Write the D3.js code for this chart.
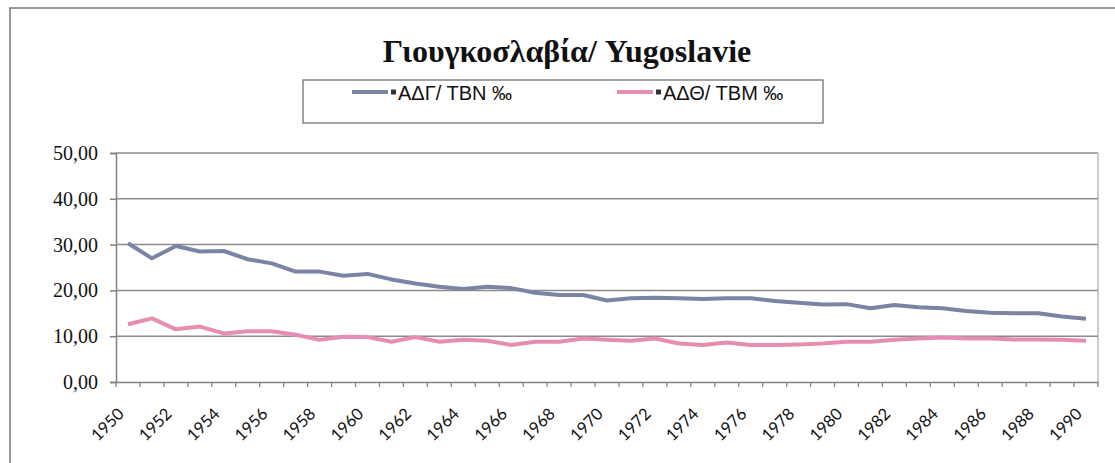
<!DOCTYPE html>
<html>
<head>
<meta charset="utf-8">
<script src="https://cdn.jsdelivr.net/npm/d3@7"></script>
<style>
  body { margin: 0; background: #fff; }
  svg { display: block; }
</style>
</head>
<body>
<svg id="chart" width="1115" height="463"></svg>
<script>
const years = d3.range(1950, 1991);
const birthRate = [30.3, 27.0, 29.7, 28.5, 28.6, 26.8, 25.9, 24.1, 24.1, 23.2,
                   23.6, 22.4, 21.5, 20.8, 20.3, 20.8, 20.5, 19.5, 19.0, 19.0,
                   17.8, 18.3, 18.4, 18.3, 18.1, 18.3, 18.3, 17.7, 17.3, 16.9,
                   17.0, 16.1, 16.8, 16.3, 16.1, 15.5, 15.1, 15.0, 15.0, 14.3, 13.8];
const deathRate = [12.6, 13.9, 11.5, 12.1, 10.6, 11.1, 11.1, 10.3, 9.2, 9.9,
                   9.8, 8.8, 9.8, 8.8, 9.2, 9.0, 8.1, 8.8, 8.8, 9.5,
                   9.2, 9.0, 9.5, 8.4, 8.1, 8.6, 8.1, 8.1, 8.2, 8.4,
                   8.8, 8.8, 9.2, 9.5, 9.7, 9.5, 9.5, 9.3, 9.3, 9.2, 9.0];
const yTicks = [0, 10, 20, 30, 40, 50];
const seriesNames = ["ΑΔΓ/ ΤΒΝ ‰", "ΑΔΘ/ ΤΒΜ ‰"];
const title = "Γιουγκοσλαβία/ Yugoslavie";

const svg = d3.select("#chart");
const colors = ["#7a84a4", "#e68db1"];

// outer chart frame (only top/left visible in the scan)
svg.append("rect")
    .attr("x", 10).attr("y", 8)
    .attr("width", 1200).attr("height", 600)
    .attr("fill", "none")
    .attr("stroke", "#777")
    .attr("stroke-width", 1.5);

const plot = {left: 116, right: 1098, top: 153, bottom: 382};

const x = d3.scaleBand()
    .domain(years)
    .range([plot.left, plot.right]);

const y = d3.scaleLinear()
    .domain([0, 50])
    .range([plot.bottom, plot.top]);

// gridlines
svg.append("g")
    .selectAll("line")
    .data(yTicks.filter(d => d > 0))
    .enter()
    .append("line")
    .attr("x1", plot.left).attr("x2", plot.right)
    .attr("y1", d => y(d)).attr("y2", d => y(d))
    .attr("stroke", "#8c8c8c")
    .attr("stroke-width", 1.5);

// right border of plot
svg.append("line")
    .attr("x1", plot.right).attr("x2", plot.right)
    .attr("y1", plot.top).attr("y2", plot.bottom)
    .attr("stroke", "#aaa").attr("stroke-width", 1.2);

// y axis
const yAxis = svg.append("g")
    .attr("transform", `translate(${plot.left},0)`)
    .call(d3.axisLeft(y).tickValues(yTicks).tickSize(6)
        .tickFormat(d => d3.format(".2f")(d).replace(".", ",")));
yAxis.select(".domain").attr("stroke", "#808080").attr("stroke-width", 1.5);
yAxis.selectAll(".tick line").attr("stroke", "#808080").attr("stroke-width", 1.5);
yAxis.selectAll("text")
    .attr("x", -18)
    .attr("font-family", "'Liberation Serif', 'Times New Roman', serif")
    .attr("font-size", 20)
    .attr("fill", "#111");

// x axis
const xAxis = svg.append("g")
    .attr("transform", `translate(0,${plot.bottom})`)
    .call(d3.axisBottom(x).tickValues([]).tickSize(0));
xAxis.select(".domain").attr("stroke", "#808080").attr("stroke-width", 1.5);

// tick marks at category boundaries
svg.append("g")
    .selectAll("line")
    .data(years.concat([1991]))
    .enter()
    .append("line")
    .attr("x1", d => d === 1991 ? plot.right : x(d))
    .attr("x2", d => d === 1991 ? plot.right : x(d))
    .attr("y1", plot.bottom)
    .attr("y2", plot.bottom + 5)
    .attr("stroke", "#808080")
    .attr("stroke-width", 1.2);

// x labels every 2 years, rotated
svg.append("g")
    .selectAll("text")
    .data(years.filter(d => d % 2 === 0))
    .enter()
    .append("text")
    .attr("transform", d => `translate(${x(d) + x.bandwidth() / 2 - 3},${plot.bottom + 33}) rotate(-45)`)
    .attr("text-anchor", "end")
    .attr("font-family", "Lato, 'Open Sans', sans-serif")
    .attr("font-size", 16.5)
    .attr("fill", "#111")
    .text(d => d);

// lines
const line = d3.line()
    .x((d, i) => x(years[i]) + x.bandwidth() / 2)
    .y(d => y(d));

[birthRate, deathRate].forEach((series, k) => {
    svg.append("path")
        .datum(series)
        .attr("d", line)
        .attr("fill", "none")
        .attr("stroke", colors[k])
        .attr("stroke-width", 4)
        .attr("stroke-linejoin", "round");
});

// title
svg.append("text")
    .attr("x", 567).attr("y", 62)
    .attr("text-anchor", "middle")
    .attr("font-family", "'Liberation Serif', 'Times New Roman', serif")
    .attr("font-weight", "bold")
    .attr("font-size", 32)
    .attr("fill", "#111")
    .text(title);

// legend
svg.append("rect")
    .attr("x", 303).attr("y", 80)
    .attr("width", 520).attr("height", 43)
    .attr("fill", "#fff")
    .attr("stroke", "#666")
    .attr("stroke-width", 1.2);

const legendX = [352, 617];
seriesNames.forEach((name, k) => {
    const g = svg.append("g").attr("transform", `translate(${legendX[k]},92)`);
    g.append("line")
        .attr("x1", 0).attr("x2", 36)
        .attr("y1", 0).attr("y2", 0)
        .attr("stroke", colors[k])
        .attr("stroke-width", 4);
    g.append("rect")
        .attr("x", 39).attr("y", -2.5)
        .attr("width", 5).attr("height", 5)
        .attr("fill", "#333");
    g.append("text")
        .attr("x", 46).attr("y", 8)
        .attr("font-family", "'Liberation Sans', Arial, sans-serif")
        .attr("font-size", 20)
        .attr("fill", "#111")
        .text(name);
});
</script>
</body>
</html>
